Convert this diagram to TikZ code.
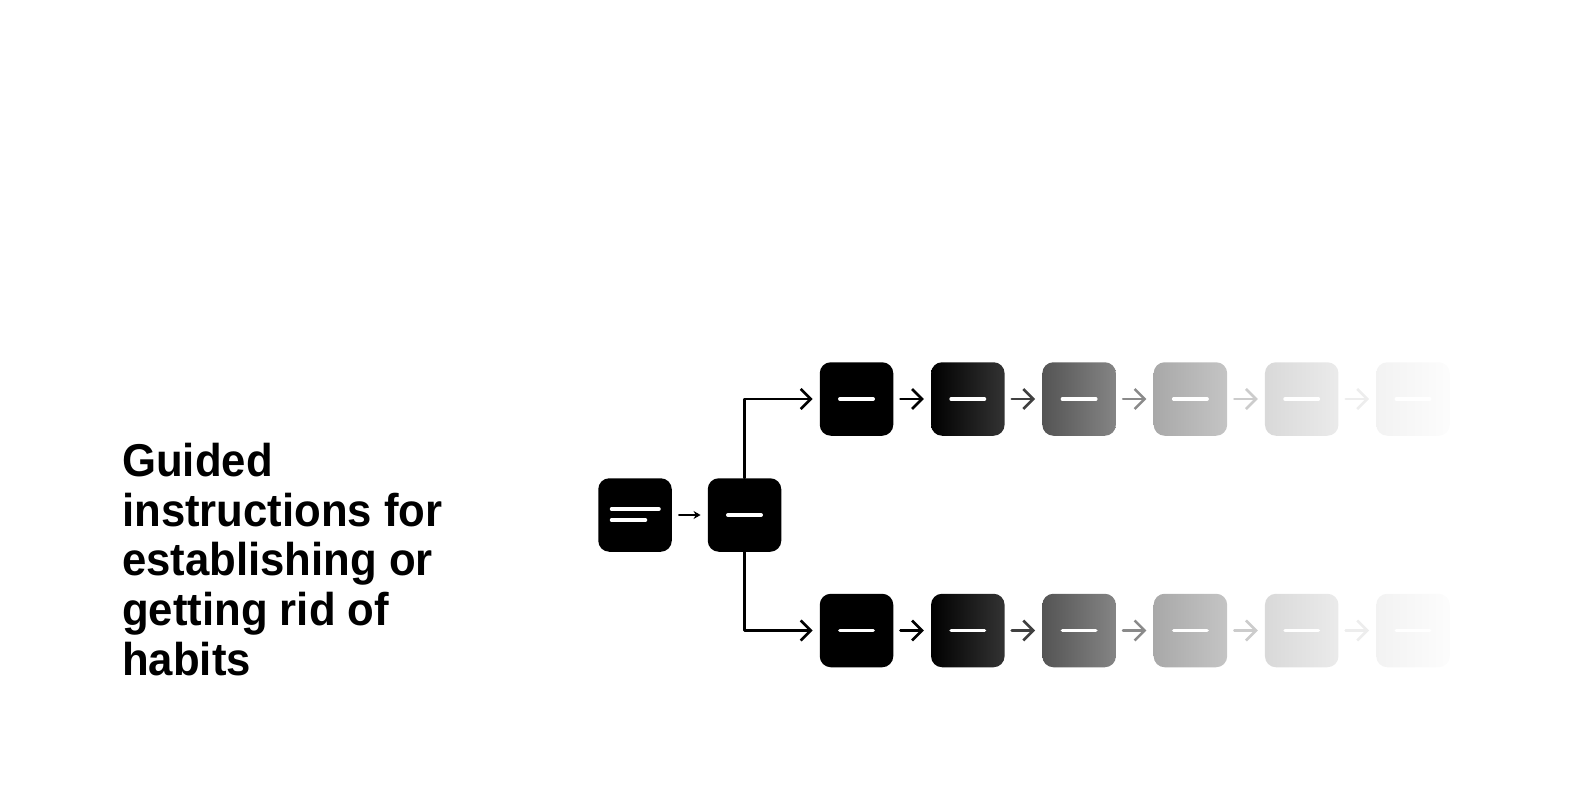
\documentclass[tikz,border=0pt]{standalone}
\usepackage{fontspec}
\newfontfamily\habitfont[FakeStretch=0.95]{Liberation Sans}
\usetikzlibrary{arrows.meta}

\begin{document}
\begin{tikzpicture}[x=1pt, y=-1pt, line cap=round, line join=round,
  card/.style={rounded corners=11pt, minimum size=73.5pt, inner sep=0pt},
  bar/.style={white, line width=3.5pt},
  hop/.style={-{Straight Barb[length=10pt,width=20pt]}, line width=2.6pt,
    shorten <=7pt, shorten >=7pt}]
  \useasboundingbox (0,0) rectangle (1587,794);
  \node[anchor=base west, align=left, inner sep=0pt,
    font=\habitfont\bfseries\fontsize{46}{49.6}\selectfont] (title) at (122,675)
    {Guided\\instructions for\\establishing or\\getting rid of\\habits};
  % first card and the split card
  \node[card, fill=black] (start) at (635,515) {};
  \draw[bar] (start.center) ++(-23.5,-6) -- ++(47.5,0);
  \draw[bar] (start.center) ++(-23.5,5) -- ++(34,0);
  \node[card, fill=black] (split) at (744.5,515) {};
  \draw[bar] (split.center) ++(-16.7,0) -- ++(33.4,0);
  \draw[line width=1.8pt, -{Stealth[length=7pt,width=8pt]},
    shorten <=7pt, shorten >=7pt] (start) -- (split);
  % the two rows, fading out
  \foreach \row/\y in {up/399, down/630.5} {
    \foreach \i/\cl/\cr in {1/black/black, 2/black/black!80, 3/black!67/black!48,
        4/black!34/black!23, 5/black!15/black!8, 6/black!5/black!1} {
      \node[card, left color=\cl, right color=\cr] (\row\i) at ({856.5+(\i-1)*111.3},\y) {};
      \draw[bar] (\row\i.center) ++(-16.7,0) -- ++(33.4,0);
    }
    \foreach \i/\j/\ca in {1/2/black, 2/3/black!75, 3/4/black!46, 4/5/black!20, 5/6/black!7}
      \draw[hop, \ca] (\row\i) -- (\row\j);
  }
  \draw[hop, shorten <=0pt] (split.north) |- (up1);
  \draw[hop, shorten <=0pt] (split.south) |- (down1);
\end{tikzpicture}
\end{document}
